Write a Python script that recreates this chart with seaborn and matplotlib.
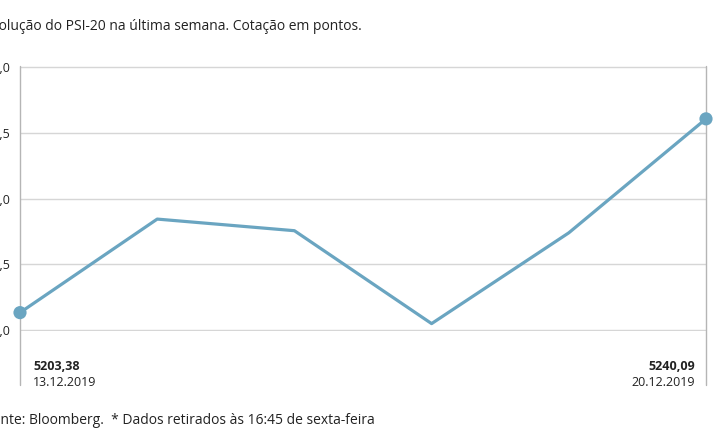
import matplotlib
matplotlib.use("Agg")
import matplotlib.pyplot as plt
import matplotlib.ticker as mticker
import pandas as pd
import seaborn as sns

# PSI-20 closing values over the last week
dates = ["13.12.2019", "16.12.2019", "17.12.2019", "18.12.2019", "19.12.2019", "20.12.2019"]
values = [5203.38, 5221.1, 5218.9, 5201.3, 5218.5, 5240.09]
y_ticks = [5200.0, 5212.5, 5225.0, 5237.5, 5250.0]

title = "Evolução do PSI-20 na última semana. Cotação em pontos."
footer = "Fonte: Bloomberg.  * Dados retirados às 16:45 de sexta-feira"

line_color = "#6aa5c1"
grid_color = "#d6d6d6"
frame_color = "#b5b5b5"
text_color = "#222222"

df = pd.DataFrame({"pos": range(len(dates)), "date": dates, "value": values})

sns.set_style("white")
plt.rcParams["font.family"] = ["Open Sans", "DejaVu Sans"]

fig = plt.figure(figsize=(7.15, 4.45), dpi=100)
ax = fig.add_axes([20 / 715, 1 - 331 / 445, 686 / 715, 265 / 445])

sns.lineplot(data=df, x="pos", y="value", ax=ax, color=line_color, linewidth=2.3)
# markers only on the first and last point
ends = df.iloc[[0, -1]]
sns.scatterplot(data=ends, x="pos", y="value", ax=ax, color=line_color, s=90,
                edgecolor="none", zorder=5, clip_on=False)

ax.set_xlim(df["pos"].min(), df["pos"].max())
ax.set_ylim(y_ticks[0] - 0.1, y_ticks[-1] + 0.1)
ax.set_yticks(y_ticks)
ax.yaxis.set_major_formatter(mticker.FuncFormatter(lambda v, p: f"{v:.1f}".replace(".", ",")))
ax.set_xticks([])
ax.set_xlabel("")
ax.set_ylabel("")
ax.tick_params(axis="y", length=0, pad=7, labelsize=9, labelcolor=text_color)

ax.grid(axis="y", color=grid_color, linewidth=1)
for side in ["top", "bottom", "left", "right"]:
    ax.spines[side].set_visible(False)

# vertical frame lines reaching down to the end labels
for xpos in [df["pos"].min(), df["pos"].max()]:
    ax.axvline(xpos, ymin=-0.205, ymax=1, color=frame_color, linewidth=1, clip_on=False, zorder=1)

def fmt(v):
    return f"{v:.2f}".replace(".", ",")

ax.annotate(fmt(values[0]), xy=(0, 0), xycoords=("data", "axes fraction"),
            xytext=(13, -35), textcoords="offset pixels", ha="left", va="center",
            fontsize=9, fontweight="bold", color=text_color)
ax.annotate(dates[0], xy=(0, 0), xycoords=("data", "axes fraction"),
            xytext=(13, -52), textcoords="offset pixels", ha="left", va="center",
            fontsize=9, color=text_color)
last = df["pos"].max()
ax.annotate(fmt(values[-1]), xy=(last, 0), xycoords=("data", "axes fraction"),
            xytext=(-11, -35), textcoords="offset pixels", ha="right", va="center",
            fontsize=9, fontweight="bold", color=text_color)
ax.annotate(dates[-1], xy=(last, 0), xycoords=("data", "axes fraction"),
            xytext=(-11, -52), textcoords="offset pixels", ha="right", va="center",
            fontsize=9, color=text_color)

# title and source, cropped on the left as in the original
fig.text(-16 / 715, 1 - 26 / 445, title, ha="left", va="center", fontsize=10, color=text_color)
fig.text(-15 / 715, 1 - 420 / 445, footer, ha="left", va="center", fontsize=10, color=text_color)

fig.savefig("out.png", dpi=100)
